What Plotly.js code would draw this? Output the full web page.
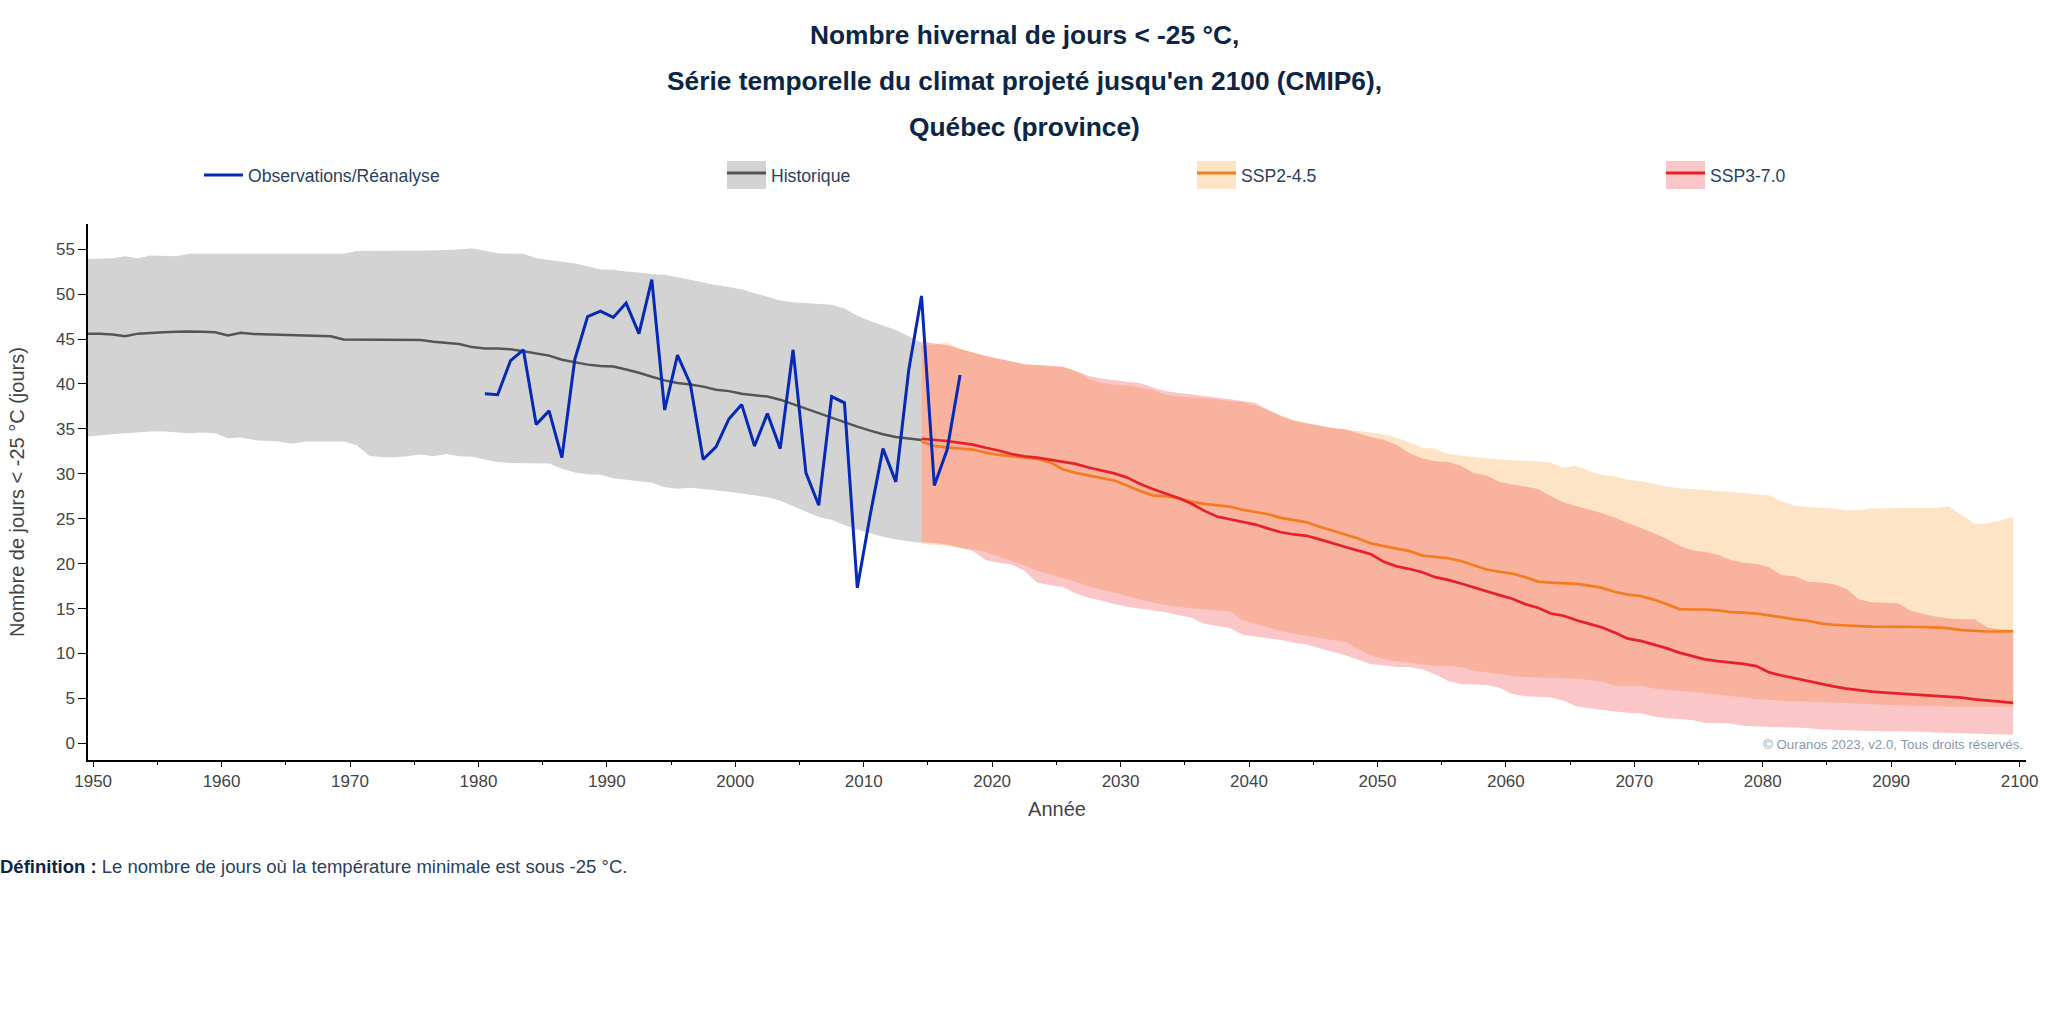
<!DOCTYPE html>
<html>
<head>
<meta charset="utf-8">
<script src="https://cdn.plot.ly/plotly-3.0.1.min.js"></script>
<style>
html,body{margin:0;padding:0;background:#ffffff;}
#chart{width:2048px;height:1022px;}
</style>
</head>
<body>
<div id="chart"></div>
<script>
// ---------- Data ----------
const histYears = [1949.5,1950.5,1951.5,1952.5,1953.5,1954.5,1955.5,1956.5,1957.5,1958.5,
1959.5,1960.5,1961.5,1962.5,1963.5,1964.5,1965.5,1966.5,1967.5,1968.5,
1969.5,1970.5,1971.5,1972.5,1973.5,1974.5,1975.5,1976.5,1977.5,1978.5,
1979.5,1980.5,1981.5,1982.5,1983.5,1984.5,1985.5,1986.5,1987.5,1988.5,
1989.5,1990.5,1991.5,1992.5,1993.5,1994.5,1995.5,1996.5,1997.5,1998.5,
1999.5,2000.5,2001.5,2002.5,2003.5,2004.5,2005.5,2006.5,2007.5,2008.5,
2009.5,2010.5,2011.5,2012.5,2013.5,2014.5];

const histMedian = [45.6,45.6,45.5,45.3,45.6,45.7,45.75,45.8,45.85,45.8,
45.75,45.4,45.7,45.55,45.5,45.45,45.4,45.35,45.35,45.3,
44.95,44.95,44.95,44.95,44.95,44.9,44.9,44.7,44.55,44.45,
44.1,43.95,43.95,43.85,43.65,43.4,43.15,42.7,42.4,42.15,
42.0,41.95,41.6,41.25,40.8,40.4,40.1,39.95,39.7,39.35,
39.2,38.9,38.75,38.6,38.25,37.75,37.25,36.75,36.2,35.7,
35.25,34.8,34.4,34.1,33.9,33.75];

const histUpper = [53.9,53.95,54.0,54.2,54.0,54.3,54.25,54.2,54.5,54.5,
54.5,54.5,54.5,54.5,54.5,54.5,54.5,54.5,54.5,54.5,
54.5,54.8,54.8,54.8,54.85,54.85,54.85,54.85,54.9,54.95,
55.1,54.8,54.55,54.5,54.5,54.0,53.8,53.6,53.4,53.1,
52.75,52.7,52.5,52.4,52.2,52.15,51.9,51.6,51.3,51.0,
50.8,50.5,50.1,49.7,49.3,49.1,49.0,48.9,48.8,48.4,
47.6,47.0,46.5,46.0,45.3,44.6];

const histLower = [34.15,34.3,34.4,34.5,34.6,34.7,34.7,34.6,34.5,34.6,
34.5,33.95,34.05,33.75,33.65,33.6,33.35,33.6,33.6,33.6,
33.6,33.2,32.0,31.85,31.85,31.95,32.15,31.95,32.2,31.95,
31.9,31.6,31.3,31.2,31.2,31.2,31.15,30.55,30.15,29.95,
29.9,29.5,29.35,29.2,29.0,28.5,28.35,28.45,28.3,28.2,
28.0,27.8,27.6,27.4,27.0,26.4,25.8,25.2,24.9,24.3,
23.8,23.4,23.0,22.7,22.5,22.3];

const obsYears = [1980.5,1981.5,1982.5,1983.5,1984.5,1985.5,1986.5,1987.5,1988.5,1989.5,
1990.5,1991.5,1992.5,1993.5,1994.5,1995.5,1996.5,1997.5,1998.5,1999.5,
2000.5,2001.5,2002.5,2003.5,2004.5,2005.5,2006.5,2007.5,2008.5,2009.5,
2010.5,2011.5,2012.5,2013.5,2014.5,2015.5,2016.5,2017.5];

const obsValues = [38.9,38.8,42.6,43.8,35.5,37.0,31.8,42.7,47.5,48.1,
47.4,49.0,45.6,51.6,37.1,43.2,40.0,31.6,33.0,36.1,
37.7,33.1,36.7,32.8,43.8,30.1,26.5,38.6,37.9,17.3,
25.4,32.8,29.1,41.5,49.8,28.7,32.7,41.0];

const projYears = [2014.5,2015.5,2016.5,2017.5,2018.5,2019.5,2020.5,2021.5,2022.5,2023.5,
2024.5,2025.5,2026.5,2027.5,2028.5,2029.5,2030.5,2031.5,2032.5,2033.5,
2034.5,2035.5,2036.5,2037.5,2038.5,2039.5,2040.5,2041.5,2042.5,2043.5,
2044.5,2045.5,2046.5,2047.5,2048.5,2049.5,2050.5,2051.5,2052.5,2053.5,
2054.5,2055.5,2056.5,2057.5,2058.5,2059.5,2060.5,2061.5,2062.5,2063.5,
2064.5,2065.5,2066.5,2067.5,2068.5,2069.5,2070.5,2071.5,2072.5,2073.5,
2074.5,2075.5,2076.5,2077.5,2078.5,2079.5,2080.5,2081.5,2082.5,2083.5,
2084.5,2085.5,2086.5,2087.5,2088.5,2089.5,2090.5,2091.5,2092.5,2093.5,
2094.5,2095.5,2096.5,2097.5,2098.5,2099.5];

const ssp245Median = [33.6,33.1,32.95,32.85,32.7,32.35,32.1,31.95,31.8,31.65,
31.3,30.5,30.1,29.8,29.5,29.25,28.7,28.1,27.6,27.5,
27.3,26.9,26.65,26.5,26.35,26.0,25.75,25.5,25.1,24.85,
24.6,24.1,23.7,23.25,22.8,22.25,21.95,21.7,21.4,20.9,
20.75,20.6,20.3,19.8,19.35,19.1,18.9,18.5,18.0,17.9,
17.85,17.75,17.55,17.3,16.85,16.55,16.4,16.0,15.5,14.95,
14.9,14.9,14.8,14.6,14.55,14.45,14.25,14.0,13.8,13.65,
13.35,13.2,13.1,13.05,13.0,13.0,13.0,12.95,12.95,12.9,
12.8,12.6,12.5,12.45,12.45,12.5];

const ssp245Upper = [44.3,44.4,44.6,43.9,43.5,43.1,42.8,42.5,42.2,42.1,
42.0,41.9,41.5,40.6,40.1,39.9,39.8,39.6,39.3,38.8,
38.6,38.5,38.4,38.3,38.1,38.0,37.6,37.1,36.5,36.0,
35.6,35.4,35.1,34.95,34.8,34.6,34.4,34.0,33.5,32.9,
32.8,32.2,32.0,31.85,31.7,31.6,31.5,31.45,31.4,31.2,
30.7,30.9,30.3,29.9,29.7,29.35,29.2,28.9,28.6,28.4,
28.3,28.2,28.1,28.0,27.85,27.7,27.6,26.9,26.45,26.3,
26.25,26.15,25.95,25.95,26.15,26.2,26.2,26.2,26.2,26.2,
26.4,25.4,24.4,24.5,24.8,25.2];

const ssp245Lower = [22.2,22.1,22.0,21.7,21.6,21.3,20.8,20.3,19.8,19.2,
18.8,18.4,18.0,17.5,17.1,16.8,16.4,16.0,15.7,15.4,
15.2,15.05,14.9,14.8,14.7,13.7,13.3,12.9,12.5,12.2,
11.95,11.7,11.5,11.3,10.5,9.8,9.4,9.15,9.0,8.8,
8.65,8.6,8.5,8.1,7.9,7.7,7.5,7.4,7.35,7.3,
7.25,7.2,7.05,6.85,6.4,6.4,6.4,6.1,5.95,5.85,
5.75,5.6,5.45,5.3,5.1,4.9,4.8,4.7,4.67,4.67,
4.6,4.55,4.5,4.45,4.4,4.3,4.25,4.2,4.15,4.1,
4.1,4.1,4.1,4.1,4.1,4.1];

const ssp370Median = [33.9,33.8,33.65,33.45,33.25,32.9,32.6,32.2,31.95,31.8,
31.55,31.3,31.1,30.7,30.4,30.05,29.6,28.9,28.3,27.8,
27.3,26.7,25.9,25.25,24.95,24.65,24.35,23.9,23.5,23.25,
23.1,22.7,22.25,21.85,21.45,21.05,20.2,19.7,19.4,19.05,
18.5,18.2,17.8,17.35,16.9,16.5,16.1,15.5,15.1,14.45,
14.2,13.7,13.3,12.9,12.3,11.65,11.4,11.0,10.6,10.1,
9.7,9.35,9.15,9.0,8.85,8.6,7.9,7.55,7.25,6.95,
6.6,6.35,6.1,5.9,5.75,5.65,5.55,5.5,5.4,5.3,
5.2,5.1,4.9,4.8,4.65,4.5];

const ssp370Upper = [44.8,44.5,44.3,43.9,43.5,43.1,42.8,42.5,42.2,42.1,
42.0,41.9,41.4,40.9,40.6,40.4,40.25,40.1,39.6,39.2,
39.0,38.8,38.65,38.5,38.3,38.1,37.9,37.1,36.4,35.9,
35.6,35.35,35.1,34.95,34.5,34.1,33.8,33.2,32.3,31.7,
31.4,31.3,30.9,30.1,29.8,29.1,28.8,28.6,28.3,27.5,
26.8,26.4,26.0,25.6,25.1,24.5,24.0,23.4,22.8,22.0,
21.5,21.3,21.0,20.4,20.1,20.0,19.6,18.7,18.6,18.0,
17.9,17.7,17.2,16.0,15.7,15.65,15.6,14.8,14.4,14.1,
13.9,13.8,13.8,12.9,12.7,12.6];

const ssp370Lower = [22.4,22.3,22.1,21.8,21.4,20.4,20.1,19.9,19.2,17.9,
17.6,17.4,16.7,16.2,15.9,15.5,15.2,15.0,14.85,14.6,
14.3,14.0,13.3,13.1,12.85,12.1,11.9,11.7,11.5,11.2,
11.0,10.6,10.2,9.8,9.3,8.8,8.7,8.5,8.5,8.25,
7.7,6.95,6.6,6.55,6.5,6.2,5.5,5.25,5.2,5.1,
4.75,4.1,3.9,3.7,3.55,3.4,3.35,3.0,2.8,2.7,
2.6,2.3,2.25,2.2,1.95,1.9,1.85,1.8,1.75,1.7,
1.55,1.5,1.45,1.4,1.4,1.35,1.35,1.33,1.3,1.2,
1.15,1.1,1.05,1.0,0.97,0.95];

const legendNames = ['Observations/Réanalyse', 'Historique', 'SSP2-4.5', 'SSP3-7.0'];
const titleLines = ['Nombre hivernal de jours &lt; -25 °C,',
                    'Série temporelle du climat projeté jusqu\'en 2100 (CMIP6),',
                    'Québec (province)'];
const xTitle = 'Année';
const yTitle = 'Nombre de jours &lt; -25 °C (jours)';
const copyrightText = '© Ouranos 2023, v2.0, Tous droits réservés.';
const definitionLabel = 'Définition :';
const definitionText = 'Le nombre de jours où la température minimale est sous -25 °C.';

// ---------- Styles ----------
const FONT = 'Arial, "Liberation Sans", sans-serif';
const NAVY = '#0b2545';
const TEXT = '#2a3f5f';
const C_OBS = '#0629b6';
const C_HIST = '#555555';
const C_HIST_FILL = '#d3d3d3';
const C_245 = '#f47b20';
const C_245_FILL = 'rgba(247,148,29,0.25)';
const C_245_BOX = 'rgb(253,228,199)';
const C_370 = '#e8202a';
const C_370_FILL = 'rgba(237,28,36,0.25)';
const C_370_BOX = 'rgb(250,198,200)';

function band(x, y, fill, fillcolor) {
  return {x: x, y: y, type: 'scatter', mode: 'lines', line: {width: 0, color: 'rgba(0,0,0,0)'},
          fill: fill, fillcolor: fillcolor, showlegend: false, hoverinfo: 'skip'};
}

const traces = [
  band(histYears, histLower, 'none', null),
  band(histYears, histUpper, 'tonexty', C_HIST_FILL),
  band(projYears, ssp245Lower, 'none', null),
  band(projYears, ssp245Upper, 'tonexty', C_245_FILL),
  band(projYears, ssp370Lower, 'none', null),
  band(projYears, ssp370Upper, 'tonexty', C_370_FILL),
  {x: histYears, y: histMedian, type: 'scatter', mode: 'lines', line: {color: C_HIST, width: 2.5}, showlegend: false, name: legendNames[1]},
  {x: projYears, y: ssp245Median, type: 'scatter', mode: 'lines', line: {color: C_245, width: 2.7}, showlegend: false, name: legendNames[2]},
  {x: projYears, y: ssp370Median, type: 'scatter', mode: 'lines', line: {color: C_370, width: 2.7}, showlegend: false, name: legendNames[3]},
  {x: obsYears, y: obsValues, type: 'scatter', mode: 'lines', line: {color: C_OBS, width: 3}, name: legendNames[0], legend: 'legend'},
  // legend-only entries for the bands
  {x: [null], y: [null], type: 'scatter', mode: 'lines', fill: 'toself', fillcolor: C_HIST_FILL, line: {color: C_HIST, width: 3}, name: legendNames[1], legend: 'legend2'},
  {x: [null], y: [null], type: 'scatter', mode: 'lines', fill: 'toself', fillcolor: C_245_BOX, line: {color: C_245, width: 3}, name: legendNames[2], legend: 'legend3'},
  {x: [null], y: [null], type: 'scatter', mode: 'lines', fill: 'toself', fillcolor: C_370_BOX, line: {color: C_370, width: 3}, name: legendNames[3], legend: 'legend4'}
];

// plot area: left 88, right 2026, top 224, bottom 760 (px)
const L = 88, R = 2026, T = 224, B = 760;
const PW = R - L, PH = B - T;
const px = v => (v - L) / PW;
const py = v => (B - v) / PH;

function legendAt(leftPx) {
  return {x: px(leftPx), xanchor: 'left', y: py(175), yanchor: 'middle', orientation: 'h',
          bgcolor: 'rgba(0,0,0,0)', borderwidth: 0, itemwidth: 39,
          font: {family: FONT, size: 17.6, color: TEXT}};
}

function legendBox(x0, color) {
  return {type: 'rect', xref: 'paper', yref: 'paper', x0: px(x0), x1: px(x0 + 39),
          y0: py(189), y1: py(161), fillcolor: color, line: {width: 0}, layer: 'above'};
}

const annotations = titleLines.map((t, i) => ({
  text: '<b>' + t + '</b>', xref: 'paper', yref: 'paper', x: px(1024), y: py([35, 81, 127][i]),
  xanchor: 'center', yanchor: 'middle', showarrow: false,
  font: {family: FONT, size: 26.3, color: NAVY}
}));
annotations.push({
  text: copyrightText, xref: 'paper', yref: 'paper', x: px(2025), y: py(744),
  xanchor: 'right', yanchor: 'middle', showarrow: false,
  font: {family: FONT, size: 13.3, color: '#8a99ab'}
});
annotations.push({
  text: '<span style="color:' + NAVY + '"><b>' + definitionLabel + '</b></span> ' + definitionText,
  xref: 'paper', yref: 'paper', x: px(-2), y: py(866),
  xanchor: 'left', yanchor: 'middle', showarrow: false,
  font: {family: FONT, size: 18.5, color: TEXT}
});

const layout = {
  width: 2048, height: 1022,
  margin: {l: L, r: 2048 - R, t: T, b: 1022 - B, pad: 0, autoexpand: false},
  paper_bgcolor: '#ffffff', plot_bgcolor: '#ffffff',
  font: {family: FONT, size: 17, color: '#444'},
  showlegend: true,
  legend: legendAt(199),
  legend2: legendAt(722),
  legend3: legendAt(1192),
  legend4: legendAt(1661),
  xaxis: {
    range: [1949.6, 2100.5], tick0: 1950, dtick: 10, ticks: 'outside', ticklen: 5, tickwidth: 1,
    tickcolor: '#000', showline: true, linecolor: '#000', linewidth: 1.5,
    showgrid: false, zeroline: false,
    minor: {dtick: 5, tick0: 1950, ticks: 'outside', ticklen: 3, tickcolor: '#000', showgrid: false},
    tickfont: {family: FONT, size: 17, color: '#444'},
    title: {text: xTitle, standoff: 12, font: {family: FONT, size: 20, color: '#444'}}
  },
  yaxis: {
    range: [-1.85, 57.8], tick0: 0, dtick: 5, ticks: 'outside', ticklen: 8, tickwidth: 1,
    tickcolor: '#000', showline: true, linecolor: '#000', linewidth: 1.5,
    showgrid: false, zeroline: false,
    tickfont: {family: FONT, size: 17, color: '#444'},
    title: {text: yTitle, standoff: 26, font: {family: FONT, size: 20, color: '#444'}}
  },
  shapes: [legendBox(727, C_HIST_FILL), legendBox(1197, C_245_BOX), legendBox(1666, C_370_BOX)],
  annotations: annotations
};

Plotly.newPlot('chart', traces, layout, {displayModeBar: false, responsive: false});
</script>
</body>
</html>
